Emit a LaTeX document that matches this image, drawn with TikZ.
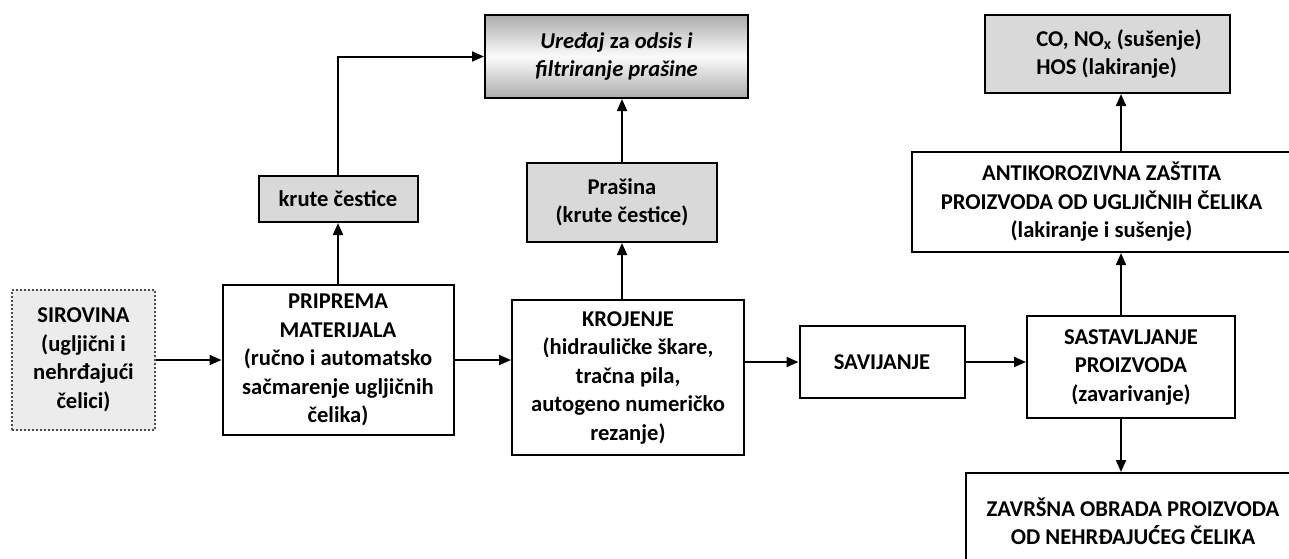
\documentclass[tikz,border=0pt]{standalone}
\usepackage{fontspec}
\setmainfont{Carlito}
\usetikzlibrary{arrows.meta,calc}
\begin{document}
\begin{tikzpicture}[x=1pt,y=-1pt,
  every node/.style={font=\bfseries\fontsize{22.6}{28.5}\selectfont, align=center, inner sep=0pt},
  box/.style={draw=black, line width=2pt, rectangle},
  graybox/.style={box, fill=gray!30},
  arr/.style={line width=2pt, -{Triangle[length=12pt,width=10pt]}},
  ln/.style={line width=2pt}
]
\useasboundingbox (0,0) rectangle (1289,558);
% nodes
\node[box, dotted, draw=gray!60!black, line width=2.4pt, fill=gray!15, minimum width=143pt, minimum height=140pt] (sir) at (83.5,360) {SIROVINA\\(ugljični i\\nehrđajući\\čelici)};
\node[box, minimum width=231pt, minimum height=150pt] (prip) at (338,360) {PRIPREMA\\MATERIJALA\\(ručno i automatsko\\sačmarenje ugljičnih\\čelika)};
\node[graybox, minimum width=159pt, minimum height=46pt] (kru) at (338,199) {krute čestice};
\node[box, top color=gray!65, bottom color=gray!65, middle color=gray!3, minimum width=263pt, minimum height=83pt] (ure) at (616.5,56.5) {\itshape Uređaj \upshape za \itshape odsis i\\\itshape filtriranje prašine};
\node[graybox, minimum width=190pt, minimum height=79pt] (pra) at (622,202.5) {Prašina\\(krute čestice)};
\node[box, minimum width=232pt, minimum height=155pt] (kro) at (628,377.5) {KROJENJE\\(hidrauličke škare,\\tračna pila,\\autogeno numeričko\\rezanje)};
\node[box, minimum width=165pt, minimum height=72pt] (sav) at (882,362) {SAVIJANJE};
\node[box, minimum width=208pt, minimum height=102pt] (sas) at (1131,367) {SASTAVLJANJE\\PROIZVODA\\(zavarivanje)};
\node[box, minimum width=379pt, minimum height=100pt] (ant) at (1101.5,202) {ANTIKOROZIVNA ZAŠTITA\\PROIZVODA OD UGLJIČNIH ČELIKA\\(lakiranje i sušenje)};
\node[graybox, minimum width=245pt, minimum height=78pt] (co) at (1107.5,54) {};
\node[align=left] (cot) at (1119,54) {CO, NO\textsubscript{x} (sušenje)\\HOS (lakiranje)};
\node[box, minimum width=334pt, minimum height=97pt] (zav) at (1133,521.5) {ZAVRŠNA OBRADA PROIZVODA\\OD NEHRĐAJUĆEG ČELIKA};
\coordinate (vx) at (1121,0);
% connectors
\draw[arr] (sir.east) -- (prip.west);
\draw[arr] (prip.north) -- (kru.south);
\draw[arr] (kru.north) |- (ure.west);
\draw[arr] (prip.east) -- (kro.west |- prip.east);
\draw[arr] (kro.north -| pra.south) -- (pra.south);
\draw[arr] (pra.north) -- (ure.south -| pra.north);
\draw[arr] (kro.east |- sav.west) -- (sav.west);
\draw[arr] (sav.east) -- (sas.west |- sav.east);
\draw[arr] (sas.north -| vx) -- (ant.south -| vx);
\draw[arr] (ant.north -| vx) -- (co.south -| vx);
\draw[arr] (sas.south -| vx) -- (zav.north -| vx);
\end{tikzpicture}
\end{document}
